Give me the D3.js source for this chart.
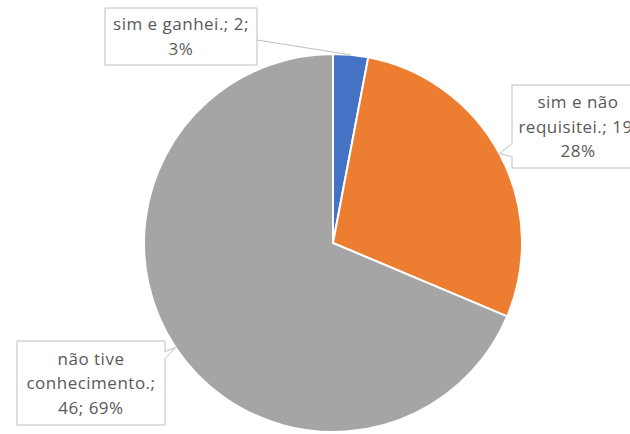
<!DOCTYPE html>
<html><head><meta charset="utf-8">
<script src="https://cdn.jsdelivr.net/npm/d3@7"></script>
<style>html,body{margin:0;padding:0;background:#fff;overflow:hidden}</style>
</head><body>
<svg id="c" width="630" height="434"></svg>
<script>
const categories = ["sim e ganhei.", "sim e não requisitei.", "não tive conhecimento."];
const values = [2, 19, 46];
const percentLabels = ["3%", "28%", "69%"];
const colors = ["#4472C4", "#ED7D31", "#A5A5A5"];
const labelLines = [
  ["sim e ganhei.; 2;", "3%"],
  ["sim e não", "requisitei.; 19;", "28%"],
  ["não tive", "conhecimento.;", "46; 69%"]
];

const svg = d3.select("#c");
const cx = 333, cy = 243, r = 189;
const g = svg.append("g").attr("transform", `translate(${cx},${cy})`);
const pie = d3.pie().sort(null).value(d => d)(values);
const arc = d3.arc().innerRadius(0).outerRadius(r);
g.selectAll("path").data(pie).join("path")
  .attr("d", arc).attr("fill", (d, i) => colors[i])
  .attr("stroke", "#fff").attr("stroke-width", 2).attr("stroke-linejoin", "round");

// callout boxes
const boxes = [
  {x: 105, y: 8, w: 152, h: 57, side: "line"},
  {x: 512, y: 85, w: 132, h: 83, side: "left"},
  {x: 17, y: 341, w: 148, h: 84, side: "right"}
];
const font = "'Open Sans', sans-serif";
pie.forEach((d, i) => {
  const b = boxes[i];
  const mid = (d.startAngle + d.endAngle) / 2;
  const tx = cx + r * Math.sin(mid), ty = cy - r * Math.cos(mid);
  let p;
  if (b.side === "left") {
    p = `M${b.x},${b.y} H${b.x + b.w} V${b.y + b.h} H${b.x} V${ty + 3} L${tx},${ty} L${b.x},${ty - 10} Z`;
  } else if (b.side === "right") {
    p = `M${b.x},${b.y} H${b.x + b.w} V${ty + 4} L${tx},${ty} L${b.x + b.w},${ty + 11} V${b.y + b.h} H${b.x} Z`;
  } else {
    p = `M${b.x},${b.y} H${b.x + b.w} V${b.y + b.h} H${b.x} Z`;
    svg.append("line").attr("x1", b.x + b.w).attr("y1", b.y + 32).attr("x2", tx).attr("y2", ty)
      .attr("stroke", "#bfbfbf").attr("stroke-width", 1);
  }
  svg.append("path").attr("d", p).attr("fill", "#fff").attr("stroke", "#bfbfbf").attr("stroke-width", 1);
  const lines = labelLines[i];
  const lh = 24.5;
  const cxText = b.x + b.w / 2;
  const startY = b.y + b.h / 2 - (lines.length - 1) * lh / 2 + 6;
  const t = svg.append("text").attr("text-anchor", "middle").attr("fill", "#595959")
    .style("font-family", font).style("font-size", "17px").style("letter-spacing", "0.5px");
  lines.forEach((ln, k) => t.append("tspan").attr("x", cxText).attr("y", startY + k * lh).text(ln));
});
</script>
</body></html>
